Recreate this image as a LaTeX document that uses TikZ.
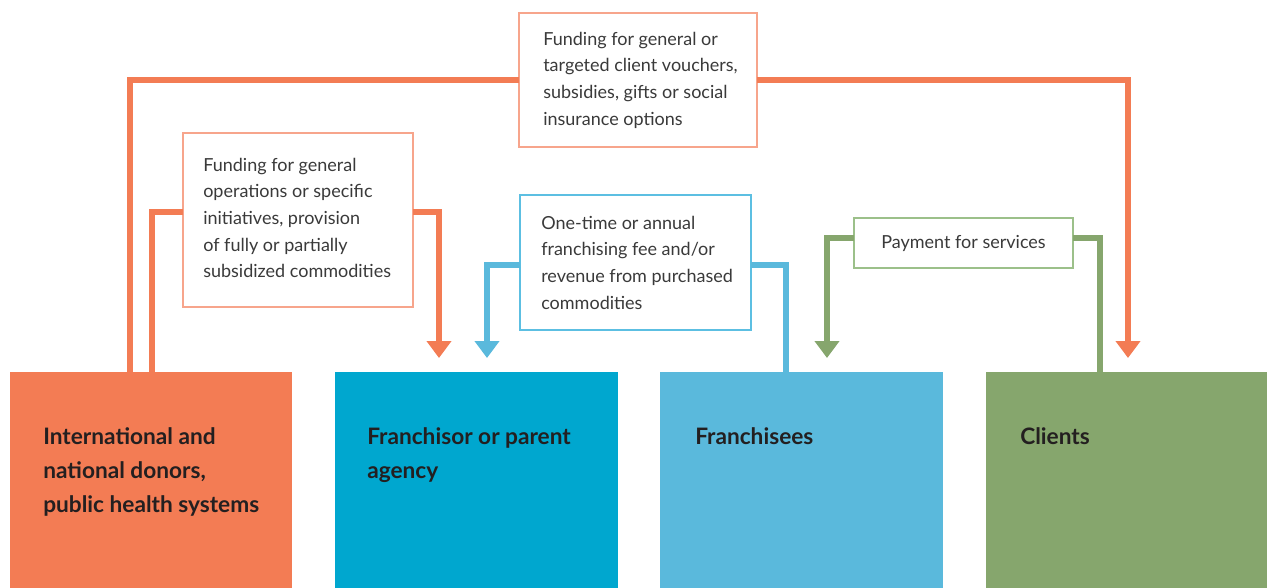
\documentclass[tikz,border=0pt]{standalone}
\usepackage{fontspec}
\setmainfont{Lato}
\usetikzlibrary{arrows.meta,calc}
\definecolor{orng}{HTML}{F37C54}
\definecolor{orngb}{HTML}{F7A58C}
\definecolor{dblue}{HTML}{00A7CF}
\definecolor{lblue}{HTML}{5AB9DC}
\definecolor{lblueb}{HTML}{5CBFE2}
\definecolor{grn}{HTML}{86A66D}
\definecolor{grnb}{HTML}{9CC08A}
\definecolor{txt}{HTML}{3A3A3A}
\definecolor{btxt}{HTML}{231F20}
\begin{document}
\begin{tikzpicture}[x=0.75pt,y=-0.75pt,
  lab/.style={draw, line width=1.5pt, fill=white, inner sep=0pt, outer sep=0pt},
  labtext/.style={inner sep=0pt, align=left, text=txt, font=\fontsize{13.5}{20}\selectfont},
  bigbox/.style={rectangle, inner sep=0pt, outer sep=0pt, draw=none},
  bigtext/.style={inner sep=0pt, align=left, text=btxt,
    font=\fontsize{17}{25.5}\selectfont\bfseries},
  flow/.style={line width=4.5pt},
  arr/.style={flow, -{Triangle[length=12.75pt,width=18pt]}, shorten >=10.5pt}]
\useasboundingbox (0,0) rectangle (1267,588);

% bottom boxes
\node[bigbox, fill=orng, minimum width=282*0.75pt, minimum height=216*0.75pt] (donors) at (151,480) {};
\node[bigbox, fill=dblue, minimum width=283*0.75pt, minimum height=216*0.75pt] (franchisor) at (476.5,480) {};
\node[bigbox, fill=lblue, minimum width=283*0.75pt, minimum height=216*0.75pt] (franchisees) at (801.5,480) {};
\node[bigbox, fill=grn, minimum width=281*0.75pt, minimum height=216*0.75pt] (clients) at (1126.5,480) {};

\node[bigtext, anchor=north west] (donorsT) at ($(donors.north west)+(33,55)$)
  {International and\\national donors,\\public health systems};
\node[bigtext, anchor=north west] (franchisorT) at ($(franchisor.north west)+(32,55)$)
  {Franchisor or parent\\agency};
\node[bigtext, anchor=north west] (franchiseesT) at ($(franchisees.north west)+(35,55)$)
  {Franchisees};
\node[bigtext, anchor=north west] (clientsT) at ($(clients.north west)+(34,55)$)
  {Clients};

% label boxes
\node[lab, draw=orngb, minimum width=238*0.75pt, minimum height=134*0.75pt] (top) at (638,80) {};
\node[labtext, anchor=west] (topT) at ($(top.west)+(24,0)$)
  {Funding for general or\\targeted client vouchers,\\subsidies, gifts or social\\insurance options};
\node[lab, draw=orngb, minimum width=230*0.75pt, minimum height=174*0.75pt] (fund) at (298,220) {};
\node[labtext, anchor=west] (fundT) at ($(fund.west)+(20,-2)$)
  {Funding for general\\operations or specific\\initiatives, provision\\of fully or partially\\subsidized commodities};
\node[lab, draw=lblueb, minimum width=231*0.75pt, minimum height=135*0.75pt] (fee) at (635.5,262.5) {};
\node[labtext, anchor=west] (feeT) at ($(fee.west)+(21,0)$)
  {One-time or annual\\franchising fee and/or\\revenue from purchased\\commodities};
\node[lab, draw=grnb, minimum width=219*0.75pt, minimum height=50*0.75pt] (pay) at (963.5,243) {};
\node[labtext] (payT) at (pay.center) {Payment for services};

% connector end points
\coordinate (d1) at (130,372);
\coordinate (d2) at (152,372);
\coordinate (f1) at (439,372);
\coordinate (f2) at (487,372);
\coordinate (e1) at (786,372);
\coordinate (e2) at (827,372);
\coordinate (c1) at (1128,372);
\coordinate (c2) at (1100,372);

% connectors
\draw[flow, orng] (top.west) -| (d1);
\draw[arr, orng] (top.east) -| (c1);
\draw[flow, orng] ($(fund.west)+(0,-8)$) -| (d2);
\draw[arr, orng] ($(fund.east)+(0,-8)$) -| (f1);
\draw[arr, lblue] ($(fee.west)+(0,2.5)$) -| (f2);
\draw[flow, lblue] ($(fee.east)+(0,2.5)$) -| (e1);
\draw[arr, grn] ($(pay.west)+(0,-5)$) -| (e2);
\draw[flow, grn] ($(pay.east)+(0,-5)$) -| (c2);
\end{tikzpicture}
\end{document}
